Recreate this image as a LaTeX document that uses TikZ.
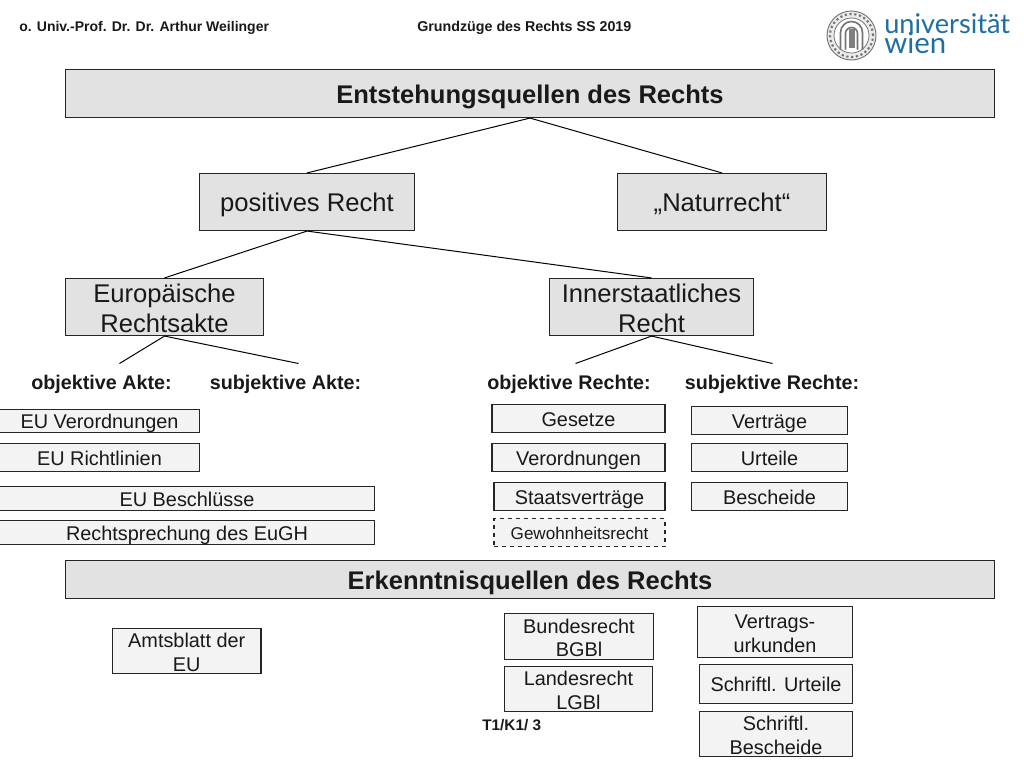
\documentclass[tikz,border=0pt]{standalone}
\usepackage{fontspec}
\setmainfont{Liberation Sans}
\newfontfamily\logofont{Lato}
\newcommand{\fs}[1]{\fontsize{#1}{#1}\selectfont}
\newcommand{\fsl}[2]{\fontsize{#1}{#2}\selectfont}
\definecolor{bigfill}{HTML}{E2E2E2}
\definecolor{smallfill}{HTML}{F3F3F3}
\definecolor{uniblue}{HTML}{1F6FA3}
\tikzset{
  px/.style={x=0.75pt,y=-0.75pt},
  boxbase/.style={draw=black!85,line width=0.85pt,inner sep=0pt,align=center,text=black!90},
  lowered/.style={text depth=0pt,text height=#1},
  bigbox/.style={boxbase,fill=bigfill},
  smallbox/.style={boxbase,fill=smallfill,font=\fs{14.9},lowered=11.5pt},
  dashbox/.style={smallbox,dashed,font=\fs{12.8},lowered=10.5pt},
  stack/.style={font=\fsl{14.9}{17.5},lowered=30pt},
  head/.style={font=\bfseries\fs{14.8},text=black!90,inner sep=0pt,anchor=base},
  small/.style={font=\bfseries\fs{10.5},text=black!90,inner sep=0pt,anchor=base west},
  link/.style={draw=black,line width=0.75pt},
  logotext/.style={anchor=base west,inner sep=0pt,text=uniblue,font=\logofont\fs{22}},
}
\newcommand{\bx}[7][]{\node[#2,minimum width=(#5-#3)*0.75pt,minimum height=(#6-#4)*0.75pt,#1] at ({(#3+#5)/2},{(#4+#6)/2}) {#7};}
\begin{document}
\begin{tikzpicture}[px]
\useasboundingbox (0.5,0.5) rectangle (1024.5,768.5);
\fill[white] (0.5,0.5) rectangle (1024.5,768.5);
\node[small] (author) at (19.5,32) {o. Univ.-Prof. Dr. Dr. Arthur Weilinger};
\node[small,font=\bfseries\fs{10.7}] (course) at (417.5,32) {Grundzüge des Rechts SS 2019};
\node[small,font=\bfseries\fs{11.5}] (pageno) at (482.5,731) {T1/K1/ 3};
% logo
\begin{scope}[draw=black!55]
\draw[line width=0.7pt,fill=black!8] (852,36) circle [radius=24.5pt*0.75];
\draw[line width=1.6pt,dotted] (852,36) circle [radius=21.5pt*0.75];
\draw[line width=0.6pt,fill=white] (852,36) circle [radius=17.5pt*0.75];
\draw[line width=1.2pt] (841,50) -- (841,33) arc[start angle=180,end angle=0,radius=11pt*0.75] -- (863,50);
\draw[line width=1.2pt] (846,50) -- (846,34) arc[start angle=180,end angle=0,radius=6pt*0.75] -- (858,50);
\fill[black!50] (849,29) rectangle (855,48);
\end{scope}
\node[logotext,font=\logofont\fs{20.4}] (logotop) at (884.5,34) {universität};
\node[logotext] (logobot) at (884.5,53.5) {wien};
% main boxes
\node[bigbox,font=\bfseries\fs{19.15},lowered=14.5pt,minimum width=696.75pt,minimum height=36pt] (root) at (530.5,94) {Entstehungsquellen des Rechts};
\node[bigbox,font=\fs{19.2},lowered=13.5pt,minimum width=161.25pt,minimum height=42.75pt] (pos) at (307.5,202.5) {positives Recht};
\node[bigbox,font=\fs{19.2},lowered=13.5pt,minimum width=156.75pt,minimum height=42.75pt] (nat) at (722.5,202.5) {„Naturrecht“};
\node[bigbox,font=\fsl{19.2}{22.5},lowered=38pt,minimum width=148.5pt,minimum height=42.75pt] (eur) at (165,307.5) {Europäische\\Rechtsakte};
\node[bigbox,font=\fsl{19.2}{22.5},lowered=38pt,minimum width=153pt,minimum height=42.75pt] (inn) at (652,307.5) {Innerstaatliches\\Recht};
% section labels
\coordinate (oa) at (120,364);
\coordinate (sa) at (299,364);
\coordinate (or) at (576,364);
\coordinate (sr) at (773,364);
\node[head] (loa) at (102,389.5) {objektive Akte:};
\node[head] (lsa) at (286,389.5) {subjektive Akte:};
\node[head] (lor) at (569.5,389.5) {objektive Rechte:};
\node[head] (lsr) at (772.5,389.5) {subjektive Rechte:};
% connectors
\draw[link] (pos.north) -- (root.south) -- (nat.north);
\draw[link] (eur.north) -- (pos.south) -- (inn.north);
\draw[link] (oa) -- (eur.south) -- (sa);
\draw[link] (or) -- (inn.south) -- (sr);
% leaf boxes
\bx{smallbox}{0}{410}{200}{433}{EU Verordnungen}
\bx{smallbox}{0}{444}{200}{472}{EU Richtlinien}
\bx{smallbox}{0}{487}{375}{511}{EU Beschlüsse}
\bx{smallbox}{0}{521}{375}{545}{Rechtsprechung des EuGH}
\bx{smallbox}{492.5}{405}{665.5}{433}{Gesetze}
\bx{smallbox}{492.5}{444}{665.5}{472}{Verordnungen}
\bx{smallbox}{494.5}{483}{665.5}{511}{Staatsverträge}
\bx{dashbox}{494.5}{519}{665.5}{547}{Gewohnheitsrecht}
\bx{smallbox}{692}{407}{848}{435}{Verträge}
\bx{smallbox}{692}{444}{848}{472}{Urteile}
\bx{smallbox}{692}{483}{848}{511}{Bescheide}
\node[bigbox,font=\bfseries\fs{19.15},lowered=14.5pt,minimum width=696.75pt,minimum height=28.5pt] (erk) at (530.5,580) {Erkenntnisquellen des Rechts};
\bx[stack]{smallbox}{113}{629}{261.5}{674}{Amtsblatt der\\EU}
\bx[stack]{smallbox}{505}{614}{654}{660}{Bundesrecht\\BGBl}
\bx[stack]{smallbox}{505}{667}{653}{712}{Landesrecht\\LGBl}
\bx[stack]{smallbox}{698}{607}{853}{658}{Vertrags-\\urkunden}
\bx{smallbox}{700}{665}{853}{704}{Schriftl. Urteile}
\bx[stack]{smallbox}{700}{712}{853}{757}{Schriftl.\\Bescheide}
\end{tikzpicture}
\end{document}
